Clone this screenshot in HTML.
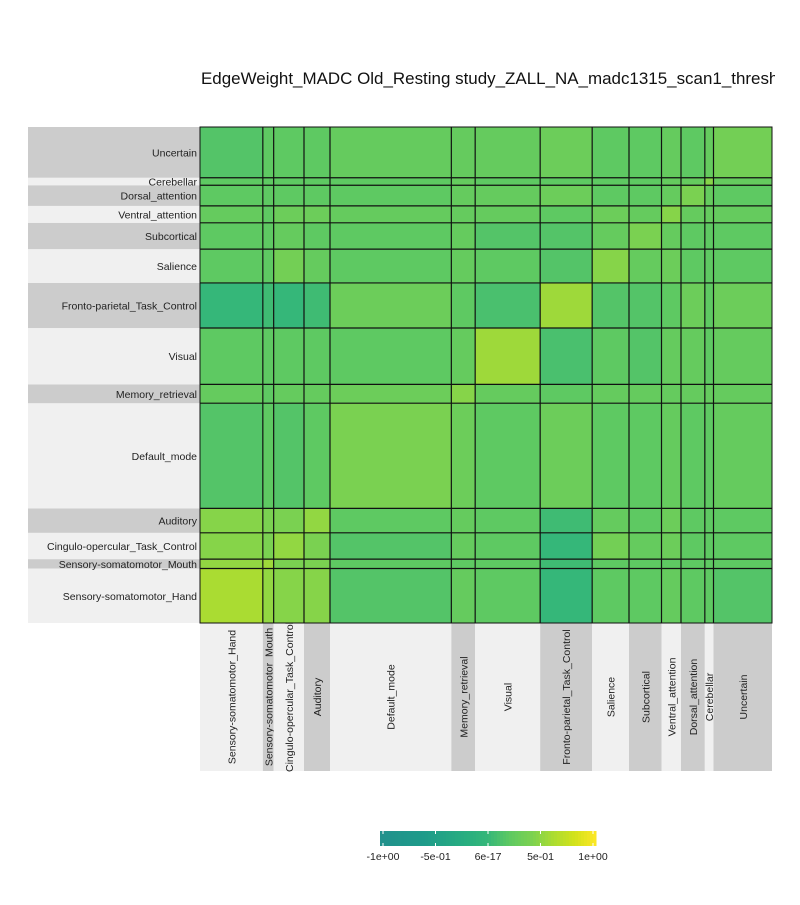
<!DOCTYPE html>
<html><head><meta charset="utf-8">
<style>
body{margin:0;background:#fff;font-family:"Liberation Sans",sans-serif;}
svg text{font-family:"Liberation Sans",sans-serif;}
</style></head><body>
<svg id="chart" width="800" height="900" xmlns="http://www.w3.org/2000/svg">
<rect width="800" height="900" fill="#fff"/>
<clipPath id="tc"><rect x="0" y="0" width="775" height="900"/></clipPath>
<text x="201" y="84" font-size="16.5" fill="#111" textLength="600" lengthAdjust="spacingAndGlyphs" clip-path="url(#tc)">EdgeWeight_MADC Old_Resting study_ZALL_NA_madc1315_scan1_threshold</text>
<g id="bands"></g>
<g id="cells"></g>
<g id="lines"></g>
<g id="legend"></g>
</svg>
<script>
const networks=["Sensory-somatomotor_Hand","Sensory-somatomotor_Mouth","Cingulo-opercular_Task_Control","Auditory","Default_mode","Memory_retrieval","Visual","Fronto-parietal_Task_Control","Salience","Subcortical","Ventral_attention","Dorsal_attention","Cerebellar","Uncertain"];
const colCounts=[29,5,14,12,56,11,30,24,17,15,9,11,4,27];
const rowCounts=[29,5,14,13,56,10,30,24,18,14,9,11,4,27];
// upper-triangular block mean edge weights (row i, col j>=i), network order
const blockVals=[
[0.6,0.5,0.45,0.45,0.15,0.25,0.2,0.0,0.2,0.2,0.25,0.2,0.2,0.15],
[0.55,0.4,0.4,0.2,0.2,0.2,0.05,0.2,0.2,0.2,0.2,0.2,0.2],
[0.5,0.4,0.15,0.25,0.2,0.0,0.35,0.25,0.3,0.2,0.2,0.2],
[0.5,0.2,0.25,0.2,0.05,0.25,0.2,0.3,0.2,0.2,0.2],
[0.4,0.3,0.2,0.3,0.2,0.2,0.25,0.2,0.2,0.25],
[0.45,0.25,0.2,0.25,0.25,0.25,0.25,0.25,0.25],
[0.55,0.1,0.2,0.15,0.25,0.25,0.2,0.25],
[0.55,0.15,0.15,0.2,0.3,0.2,0.3],
[0.45,0.25,0.3,0.2,0.2,0.2],
[0.4,0.25,0.2,0.2,0.2],
[0.45,0.25,0.25,0.25],
[0.4,0.25,0.2],
[0.45,0.25],
[0.35]];
const legendTicks=[-1,-0.5,0,0.5,1];
const legendLabels=["-1e+00","-5e-01","6e-17","5e-01","1e+00"];

const NS="http://www.w3.org/2000/svg";
const X0=200,X1=772,Y0=127,Y1=623;
const nTot=colCounts.reduce((a,b)=>a+b,0);
const rTot=rowCounts.reduce((a,b)=>a+b,0);
function xs(k){return X0+(X1-X0)*k/nTot;}
function ys(k){return Y1-(Y1-Y0)*k/rTot;}
const vir=[[0.5,[33,145,140]],[0.6,[30,155,138]],[0.7,[40,174,128]],[0.75,[53,183,121]],[0.8,[94,201,98]],[0.85,[122,209,81]],[0.9,[170,220,50]],[0.95,[210,226,27]],[1,[253,231,37]]];
function color(v){const t=0.75+0.25*Math.max(-1,Math.min(1,v));
 for(let i=0;i<vir.length-1;i++){const [a,ca]=vir[i],[b,cb]=vir[i+1];
  if(t<=b){const f=(t-a)/(b-a);return `rgb(${ca.map((c,k)=>Math.round(c+(cb[k]-c)*f)).join(",")})`;}}
 return "rgb(253,231,37)";}
function val(i,j){return i<=j?blockVals[i][j-i]:blockVals[j][i-j];}
function mk(tag,attrs,parent){const e=document.createElementNS(NS,tag);for(const k in attrs)e.setAttribute(k,attrs[k]);parent.appendChild(e);return e;}

const bands=document.getElementById("bands"),cells=document.getElementById("cells"),lines=document.getElementById("lines"),leg=document.getElementById("legend");
let acc=0;
networks.forEach((n,i)=>{const yb=ys(acc),yt=ys(acc+rowCounts[i]);acc+=rowCounts[i];
 const r=mk("rect",{x:28,y:yt,width:172,height:yb-yt,fill:i%2?"#cccccc":"#f0f0f0"},bands);
 
 
 const t=mk("text",{x:197,y:(yt+yb)/2+4,"font-size":10.5,"text-anchor":"end",fill:"#222"},bands);t.textContent=n;
 
 
});
acc=0;
networks.forEach((n,i)=>{const xl=xs(acc),xr=xs(acc+colCounts[i]);acc+=colCounts[i];
 const r=mk("rect",{x:xl,y:623,width:xr-xl,height:148,fill:i%2?"#cccccc":"#f0f0f0"},bands);
 
 
 const cx=(xl+xr)/2+4;
 const t=mk("text",{x:cx,y:697,"font-size":10.5,"text-anchor":"middle",fill:"#222",transform:`rotate(-90 ${cx} 697)`},bands);t.textContent=n;
 
 
});
let ra=0;
rowCounts.forEach((rc,i)=>{let ca=0;
 colCounts.forEach((cc,j)=>{const x=xs(ca),w=xs(ca+cc)-x,yb=ys(ra),yt=ys(ra+rc);
  const c=mk("rect",{x:x,y:yt,width:w+0.3,height:yb-yt+0.3,fill:color(val(i,j))},cells);
  
  
  ca+=cc;});
 ra+=rc;});
acc=0;colCounts.forEach((c,i)=>{acc+=c;if(i<colCounts.length-1){const l=mk("line",{x1:xs(acc),x2:xs(acc),y1:Y0,y2:Y1,stroke:"#111","stroke-width":1.2},lines);
 
 }});
acc=0;rowCounts.forEach((c,i)=>{acc+=c;if(i<rowCounts.length-1){const l=mk("line",{x1:X0,x2:X1,y1:ys(acc),y2:ys(acc),stroke:"#111","stroke-width":1.2},lines);
 
 }});
const bd=mk("rect",{x:X0,y:Y0,width:X1-X0,height:Y1-Y0,fill:"none",stroke:"#111","stroke-width":1},lines);


const LX0=380,LX1=596,LY=831,LH=15;
for(let k=0;k<72;k++){const v=-1+2*(k+0.5)/72;
 const r=mk("rect",{x:LX0+(LX1-LX0)*k/72,y:LY,width:(LX1-LX0)/72+0.5,height:LH,fill:color(v)},leg);
 
 }
function lx(v){return LX0+3+(LX1-LX0-6)*(v+1)/2;}
legendTicks.forEach((v,i)=>{
 const l=mk("line",{x1:lx(v),x2:lx(v),y1:LY,y2:LY+3,stroke:"#fff"},leg);
 
 
 const l2=mk("line",{x1:lx(v),x2:lx(v),y1:LY+LH-3,y2:LY+LH,stroke:"#fff"},leg);
 
 
 const t=mk("text",{x:lx(v),y:860,"font-size":10.5,"text-anchor":"middle",fill:"#222"},leg);t.textContent=legendLabels[i];
 
 
});
</script>
</body></html>
